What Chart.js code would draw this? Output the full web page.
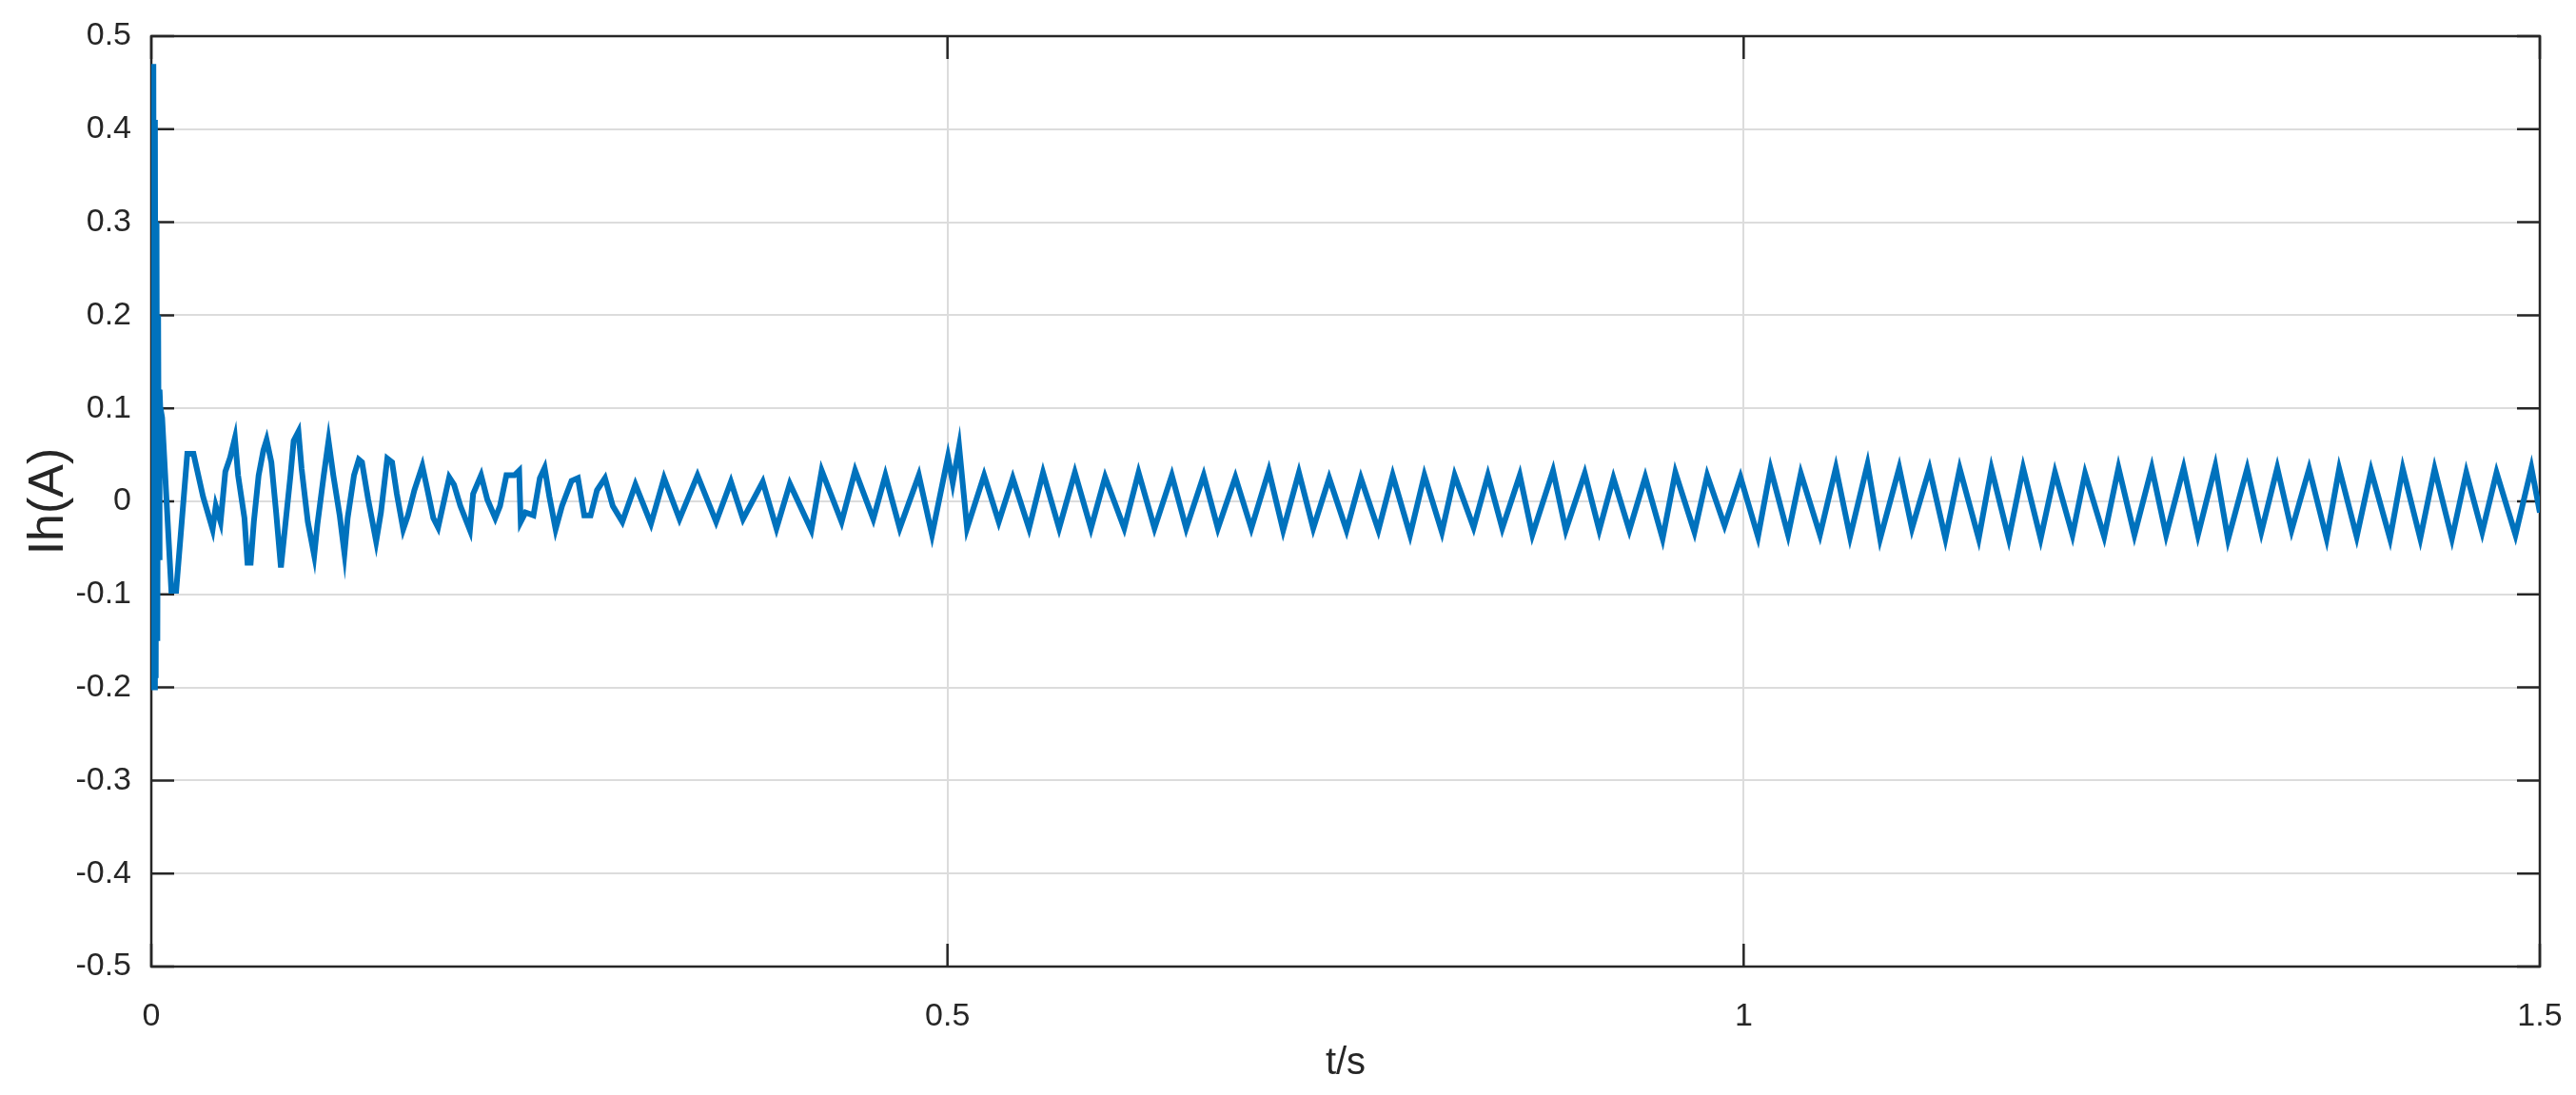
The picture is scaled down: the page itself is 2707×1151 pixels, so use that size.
<!DOCTYPE html>
<html lang="en">
<head>
    <meta charset="UTF-8" />
    <title>Ih(A) vs t/s</title>
    <style>
        body {
            margin: 0;
            background-color: #ffffff;
        }
        #chart {
            display: block;
        }
    </style>
</head>
<body>
<canvas id="chart" width="2707" height="1151"></canvas>

<script src="https://cdn.jsdelivr.net/npm/chart.js"></script>
<script>
    // axis ticks
    const xTicks = [0, 0.5, 1, 1.5];
    const xTickLabels = ["0", "0.5", "1", "1.5"];
    const yTicks = [-0.5, -0.4, -0.3, -0.2, -0.1, 0, 0.1, 0.2, 0.3, 0.4, 0.5];
    const yTickLabels = ["-0.5", "-0.4", "-0.3", "-0.2", "-0.1", "0", "0.1", "0.2", "0.3", "0.4", "0.5"];

    // [t (s), Ih (A)]
    const startSpike = [
        [0, 0], [0.0003, 0.09], [0.0008, -0.16], [0.0013, 0.47], [0.0018, -0.2],
        [0.0023, 0.41], [0.0028, -0.19], [0.0033, 0.3], [0.0038, -0.15], [0.0043, 0.2],
        [0.0048, -0.06], [0.0052, 0.12], [0.0056, 0.102], [0.0068, 0.09],
        [0.0126, -0.096], [0.0156, -0.096]
    ];

    const earlyTransient = [
        [0.0226, 0.051], [0.0265, 0.051], [0.0325, 0.005], [0.0385, -0.030], [0.0405, -0.005],
        [0.0435, -0.022], [0.0465, 0.032], [0.0495, 0.047], [0.0525, 0.068], [0.0545, 0.028],
        [0.0585, -0.018], [0.0604, -0.066], [0.0624, -0.066], [0.0644, -0.022], [0.0674, 0.028],
        [0.0704, 0.055], [0.0724, 0.066], [0.0754, 0.042], [0.0784, -0.012], [0.0814, -0.071],
        [0.0834, -0.038], [0.0874, 0.028], [0.0894, 0.065], [0.0924, 0.075], [0.0944, 0.035],
        [0.0983, -0.022], [0.1023, -0.058], [0.1043, -0.025], [0.1083, 0.028], [0.1113, 0.065],
        [0.1143, 0.028], [0.1183, -0.015], [0.1213, -0.056], [0.1233, -0.018], [0.1273, 0.028],
        [0.1303, 0.045], [0.1323, 0.042], [0.1362, 0.002], [0.1412, -0.043], [0.1442, -0.012],
        [0.1482, 0.046], [0.1512, 0.042], [0.1542, 0.008], [0.1582, -0.030], [0.1612, -0.015],
        [0.1652, 0.012], [0.1702, 0.038], [0.1731, 0.015], [0.1771, -0.018], [0.1801, -0.028],
        [0.1831, -0.005], [0.1871, 0.026], [0.1901, 0.018], [0.1941, -0.005], [0.2001, -0.031],
        [0.2021, 0.008], [0.2071, 0.028], [0.2110, 0.002], [0.2160, -0.018], [0.2190, -0.005],
        [0.2230, 0.028], [0.2280, 0.028], [0.2310, 0.033], [0.2320, -0.022], [0.2350, -0.012],
        [0.2400, -0.015], [0.2440, 0.025], [0.2470, 0.036], [0.2500, 0.005], [0.2539, -0.030],
        [0.2579, -0.005], [0.2639, 0.022], [0.2679, 0.025], [0.2719, -0.015], [0.2759, -0.015],
        [0.2799, 0.012], [0.2849, 0.025], [0.2898, -0.005], [0.2958, -0.022]
    ];

    const settling = [
        [0.3040, 0.018], [0.3138, -0.024], [0.3220, 0.025], [0.3317, -0.019], [0.3430, 0.028],
        [0.3547, -0.022], [0.3640, 0.021], [0.3716, -0.019], [0.3840, 0.021], [0.3926, -0.029],
        [0.4010, 0.019], [0.4145, -0.031], [0.4210, 0.033], [0.4335, -0.022], [0.4420, 0.033],
        [0.4534, -0.019], [0.4610, 0.028], [0.4700, -0.029], [0.4820, 0.028], [0.4903, -0.036],
        [0.5003, 0.048], [0.5033, 0.020], [0.5073, 0.059], [0.5123, -0.029], [0.5230, 0.028],
        [0.5322, -0.022], [0.5410, 0.025], [0.5512, -0.029], [0.5600, 0.031], [0.5701, -0.029],
        [0.5800, 0.031], [0.5901, -0.029], [0.5990, 0.026]
    ];

    const steadyMid = [
        [0.6110, -0.029], [0.6200, 0.031], [0.6300, -0.029], [0.6409, 0.028], [0.6499, -0.029],
        [0.6609, 0.028], [0.6698, -0.029], [0.6808, 0.026], [0.6908, -0.029], [0.7018, 0.033],
        [0.7108, -0.031], [0.7207, 0.031], [0.7297, -0.029], [0.7397, 0.025], [0.7506, -0.031],
        [0.7596, 0.025], [0.7706, -0.031], [0.7796, 0.028], [0.7905, -0.036], [0.7995, 0.028],
        [0.8105, -0.033], [0.8185, 0.028], [0.8304, -0.028], [0.8394, 0.028], [0.8484, -0.029],
        [0.8594, 0.028], [0.8673, -0.036], [0.8803, 0.033], [0.8883, -0.031]
    ];

    const steadyLate = [
        [0.9002, 0.030], [0.9093, -0.031], [0.9182, 0.025], [0.9282, -0.031], [0.9382, 0.026],
        [0.9491, -0.040], [0.9571, 0.031], [0.9691, -0.033], [0.9771, 0.028], [0.9880, -0.026],
        [0.9980, 0.026], [1.0090, -0.038], [1.0169, 0.035], [1.0279, -0.036], [1.0359, 0.030],
        [1.0479, -0.036], [1.0579, 0.036], [1.0668, -0.038], [1.0778, 0.040], [1.0857, -0.040],
        [1.0977, 0.036], [1.1057, -0.029], [1.1167, 0.035], [1.1267, -0.040], [1.1357, 0.035],
        [1.1476, -0.040], [1.1556, 0.035], [1.1665, -0.040], [1.1755, 0.036], [1.1865, -0.040],
        [1.1955, 0.031]
    ];

    const steadyEnd = [
        [1.2065, -0.036], [1.2144, 0.030], [1.2264, -0.038], [1.2354, 0.036], [1.2454, -0.036],
        [1.2563, 0.036], [1.2653, -0.036], [1.2763, 0.036], [1.2853, -0.036], [1.2962, 0.038],
        [1.3042, -0.041], [1.3162, 0.035], [1.3251, -0.033], [1.3351, 0.036], [1.3441, -0.031],
        [1.3551, 0.035], [1.3661, -0.040], [1.3740, 0.035], [1.3850, -0.038], [1.3940, 0.033],
        [1.4059, -0.040], [1.4139, 0.035], [1.4249, -0.040], [1.4339, 0.035], [1.4448, -0.040],
        [1.4538, 0.031], [1.4638, -0.033], [1.4728, 0.031], [1.4847, -0.036], [1.4947, 0.036],
        [1.5000, -0.012]
    ];

    const series = startSpike.concat(earlyTransient, settling, steadyMid, steadyLate, steadyEnd)
        .map(([t, i]) => ({ x: t, y: i }));

    // box and inward ticks like a MATLAB axes
    const axesFrame = {
        id: "axesFrame",
        beforeDatasetsDraw(chart) {
            const { ctx, chartArea: a, scales: { x, y } } = chart;
            const len = 24;
            ctx.save();
            ctx.strokeStyle = "#262626";
            ctx.lineWidth = 2.5;
            ctx.beginPath();
            xTicks.forEach((v) => {
                const px = x.getPixelForValue(v);
                ctx.moveTo(px, a.bottom); ctx.lineTo(px, a.bottom - len);
                ctx.moveTo(px, a.top); ctx.lineTo(px, a.top + len);
            });
            yTicks.forEach((v) => {
                const py = y.getPixelForValue(v);
                ctx.moveTo(a.left, py); ctx.lineTo(a.left + len, py);
                ctx.moveTo(a.right, py); ctx.lineTo(a.right - len, py);
            });
            ctx.stroke();
            ctx.strokeRect(a.left, a.top, a.right - a.left, a.bottom - a.top);
            ctx.restore();
        }
    };

    const tickFont = { family: "'Liberation Sans', Arial, sans-serif", size: 34 };

    new Chart(document.getElementById("chart"), {
        type: "line",
        data: {
            datasets: [{
                data: series,
                borderColor: "#0072BD",
                borderWidth: 6,
                pointRadius: 0,
                tension: 0,
                fill: false
            }]
        },
        options: {
            responsive: false,
            devicePixelRatio: 1,
            animation: false,
            layout: { padding: { left: 0, top: 38, right: 38, bottom: 0 } },
            plugins: { legend: { display: false }, tooltip: { enabled: false } },
            scales: {
                x: {
                    type: "linear",
                    min: 0,
                    max: 1.5,
                    afterBuildTicks: (scale) => { scale.ticks = xTicks.map((v) => ({ value: v })); },
                    afterFit: (scale) => {
                        scale.height = 135;
                        scale.paddingLeft = 0;
                        scale.paddingRight = 0;
                    },
                    ticks: {
                        font: tickFont,
                        color: "#262626",
                        padding: 32,
                        maxRotation: 0,
                        callback: (v) => xTickLabels[xTicks.indexOf(v)]
                    },
                    grid: { color: "#dcdcdc", lineWidth: 2, drawTicks: false },
                    border: { display: false },
                    title: {
                        display: true, text: "t/s", color: "#262626", padding: { bottom: 9 },
                        font: { family: "'Liberation Sans', Arial, sans-serif", size: 40 }
                    }
                },
                y: {
                    type: "linear",
                    min: -0.5,
                    max: 0.5,
                    afterBuildTicks: (scale) => { scale.ticks = yTicks.map((v) => ({ value: v })); },
                    afterFit: (scale) => {
                        scale.width = 159;
                        scale.paddingTop = 0;
                        scale.paddingBottom = 0;
                    },
                    ticks: {
                        font: tickFont,
                        color: "#262626",
                        padding: 21,
                        callback: (v) => yTickLabels[yTicks.indexOf(v)]
                    },
                    grid: { color: "#dcdcdc", lineWidth: 2, drawTicks: false },
                    border: { display: false },
                    title: {
                        display: true, text: "Ih(A)", color: "#262626", padding: { top: 20 },
                        font: { family: "'Liberation Sans', Arial, sans-serif", size: 52 }
                    }
                }
            }
        },
        plugins: [axesFrame]
    });
</script>
</body>
</html>
